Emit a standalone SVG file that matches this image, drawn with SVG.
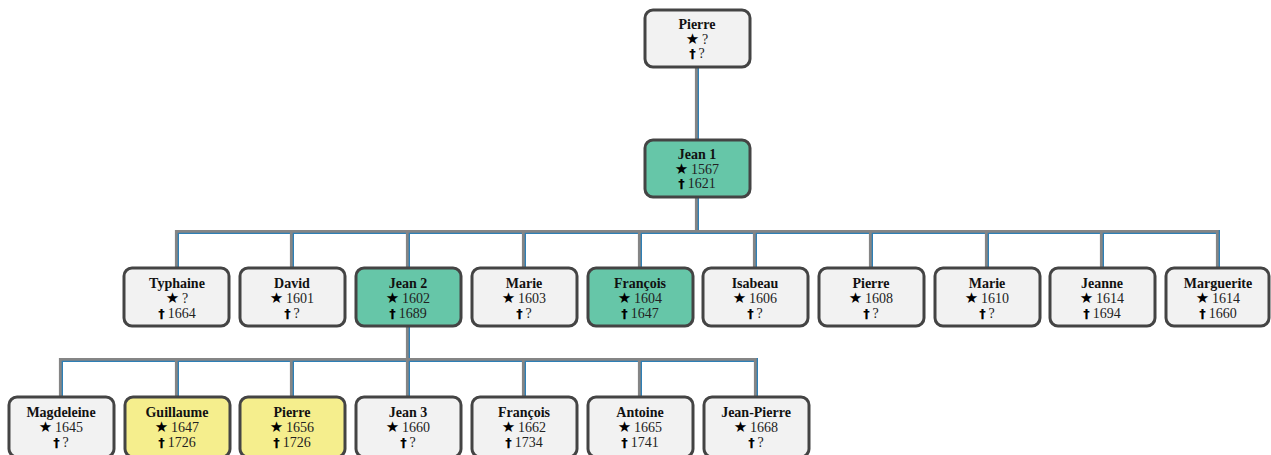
<svg xmlns="http://www.w3.org/2000/svg" width="1271" height="455" viewBox="0 0 1271 455">
<style>
.b{fill:#f2f2f2;stroke:#444;stroke-width:3}
.g{fill:#66c6a8}
.y{fill:#f5ee8d}
text{font-family:"Liberation Serif","DejaVu Serif",serif;font-size:14px;text-anchor:middle;fill:#222}
.n{font-weight:bold;fill:#111}
.s{font-family:"DejaVu Sans",sans-serif;font-size:15px;fill:#000}
.d{font-family:"DejaVu Sans",sans-serif;font-weight:bold;font-size:13px;fill:#000}
.c1{fill:none;stroke:#2e7fb5;stroke-width:4}
.c2{fill:none;stroke:#858585;stroke-width:2.8}
</style>
<defs>
<path id="conn" d="M697,67 V232 M177,268 V232 H1218 V268 M292,232 V268 M408,232 V268 M524,232 V268 M640,232 V268 M755,232 V268 M871,232 V268 M987,232 V268 M1102,232 V268 M408,326 V360 M61,397 V360 H756 V397 M177,360 V397 M292,360 V397 M408,360 V397 M524,360 V397 M640,360 V397"/>
</defs>
<g id="connectors">
<use href="#conn" class="c1"/>
<use href="#conn" class="c2" transform="translate(-0.7,-0.7)"/>
</g>
<g id="n0"><rect class="b" x="645" y="10" width="105" height="57" rx="8"/><text class="n" x="697" y="29">Pierre</text><text x="697" y="44"><tspan class="s">★</tspan>&#8201;?</text><text x="697" y="58"><tspan class="d">†</tspan>&#8201;?</text></g>
<g id="n1"><rect class="b g" x="645" y="140" width="105" height="57" rx="8"/><text class="n" x="697" y="159">Jean 1</text><text x="697" y="174"><tspan class="s">★</tspan>&#8201;1567</text><text x="697" y="188"><tspan class="d">†</tspan>&#8201;1621</text></g>

<g id="n2"><rect class="b" x="124" y="268" width="105" height="58" rx="8"/><text class="n" x="177" y="288">Typhaine</text><text x="177" y="303"><tspan class="s">★</tspan>&#8201;?</text><text x="177" y="318"><tspan class="d">†</tspan>&#8201;1664</text></g>
<g id="n3"><rect class="b" x="240" y="268" width="105" height="58" rx="8"/><text class="n" x="292" y="288">David</text><text x="292" y="303"><tspan class="s">★</tspan>&#8201;1601</text><text x="292" y="318"><tspan class="d">†</tspan>&#8201;?</text></g>
<g id="n4"><rect class="b g" x="356" y="268" width="105" height="58" rx="8"/><text class="n" x="408" y="288">Jean 2</text><text x="408" y="303"><tspan class="s">★</tspan>&#8201;1602</text><text x="408" y="318"><tspan class="d">†</tspan>&#8201;1689</text></g>
<g id="n5"><rect class="b" x="472" y="268" width="105" height="58" rx="8"/><text class="n" x="524" y="288">Marie</text><text x="524" y="303"><tspan class="s">★</tspan>&#8201;1603</text><text x="524" y="318"><tspan class="d">†</tspan>&#8201;?</text></g>
<g id="n6"><rect class="b g" x="588" y="268" width="105" height="58" rx="8"/><text class="n" x="640" y="288">François</text><text x="640" y="303"><tspan class="s">★</tspan>&#8201;1604</text><text x="640" y="318"><tspan class="d">†</tspan>&#8201;1647</text></g>
<g id="n7"><rect class="b" x="703" y="268" width="105" height="58" rx="8"/><text class="n" x="755" y="288">Isabeau</text><text x="755" y="303"><tspan class="s">★</tspan>&#8201;1606</text><text x="755" y="318"><tspan class="d">†</tspan>&#8201;?</text></g>
<g id="n8"><rect class="b" x="819" y="268" width="105" height="58" rx="8"/><text class="n" x="871" y="288">Pierre</text><text x="871" y="303"><tspan class="s">★</tspan>&#8201;1608</text><text x="871" y="318"><tspan class="d">†</tspan>&#8201;?</text></g>
<g id="n9"><rect class="b" x="935" y="268" width="105" height="58" rx="8"/><text class="n" x="987" y="288">Marie</text><text x="987" y="303"><tspan class="s">★</tspan>&#8201;1610</text><text x="987" y="318"><tspan class="d">†</tspan>&#8201;?</text></g>
<g id="n10"><rect class="b" x="1050" y="268" width="105" height="58" rx="8"/><text class="n" x="1102" y="288">Jeanne</text><text x="1102" y="303"><tspan class="s">★</tspan>&#8201;1614</text><text x="1102" y="318"><tspan class="d">†</tspan>&#8201;1694</text></g>
<g id="n11"><rect class="b" x="1166" y="268" width="103" height="58" rx="8"/><text class="n" x="1218" y="288">Marguerite</text><text x="1218" y="303"><tspan class="s">★</tspan>&#8201;1614</text><text x="1218" y="318"><tspan class="d">†</tspan>&#8201;1660</text></g>

<g id="n12"><rect class="b" x="9" y="397" width="105" height="60" rx="8"/><text class="n" x="61" y="417">Magdeleine</text><text x="61" y="432"><tspan class="s">★</tspan>&#8201;1645</text><text x="61" y="447"><tspan class="d">†</tspan>&#8201;?</text></g>
<g id="n13"><rect class="b y" x="125" y="397" width="105" height="60" rx="8"/><text class="n" x="177" y="417">Guillaume</text><text x="177" y="432"><tspan class="s">★</tspan>&#8201;1647</text><text x="177" y="447"><tspan class="d">†</tspan>&#8201;1726</text></g>
<g id="n14"><rect class="b y" x="240" y="397" width="105" height="60" rx="8"/><text class="n" x="292" y="417">Pierre</text><text x="292" y="432"><tspan class="s">★</tspan>&#8201;1656</text><text x="292" y="447"><tspan class="d">†</tspan>&#8201;1726</text></g>
<g id="n15"><rect class="b" x="356" y="397" width="105" height="60" rx="8"/><text class="n" x="408" y="417">Jean 3</text><text x="408" y="432"><tspan class="s">★</tspan>&#8201;1660</text><text x="408" y="447"><tspan class="d">†</tspan>&#8201;?</text></g>
<g id="n16"><rect class="b" x="472" y="397" width="105" height="60" rx="8"/><text class="n" x="524" y="417">François</text><text x="524" y="432"><tspan class="s">★</tspan>&#8201;1662</text><text x="524" y="447"><tspan class="d">†</tspan>&#8201;1734</text></g>
<g id="n17"><rect class="b" x="588" y="397" width="105" height="60" rx="8"/><text class="n" x="640" y="417">Antoine</text><text x="640" y="432"><tspan class="s">★</tspan>&#8201;1665</text><text x="640" y="447"><tspan class="d">†</tspan>&#8201;1741</text></g>
<g id="n18"><rect class="b" x="704" y="397" width="105" height="60" rx="8"/><text class="n" x="756" y="417">Jean-Pierre</text><text x="756" y="432"><tspan class="s">★</tspan>&#8201;1668</text><text x="756" y="447"><tspan class="d">†</tspan>&#8201;?</text></g>
</svg>
